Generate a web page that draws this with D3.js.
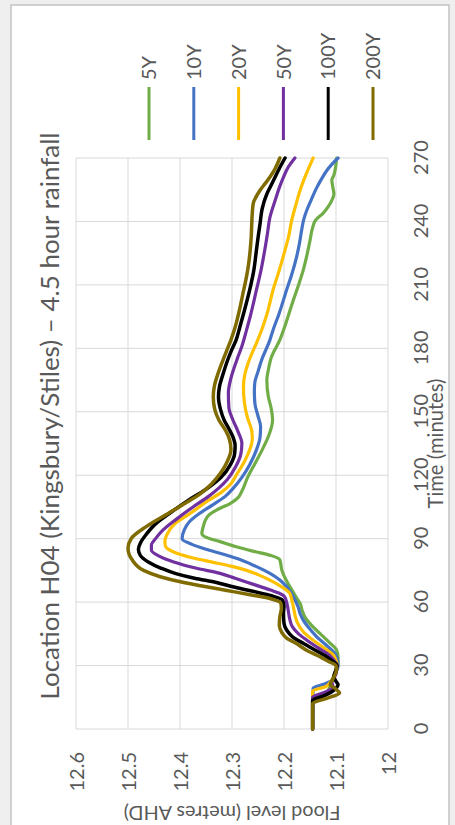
<!DOCTYPE html>
<html>
<head>
<meta charset="utf-8">
<script src="https://cdn.jsdelivr.net/npm/d3@7"></script>
<style>
  html, body { margin: 0; padding: 0; background: #efefef; }
  svg { display: block; }
  text { font-family: Lato, "Open Sans", sans-serif; fill: #595959; }
</style>
</head>
<body>
<svg id="chart" width="455" height="825"></svg>
<script>
// ---- data ----
const seriesNames = ["5Y", "10Y", "20Y", "50Y", "100Y", "200Y"];
const seriesColors = ["#70ad47", "#4472c4", "#ffc000", "#7030a0", "#000000", "#7f6b00"];
const timeTicks = [0, 30, 60, 90, 120, 150, 180, 210, 240, 270];
const levelTicks = [12, 12.1, 12.2, 12.3, 12.4, 12.5, 12.6];
const levelTickLabels = ["12", "12.1", "12.2", "12.3", "12.4", "12.5", "12.6"];

// [time (minutes), flood level (m AHD)]
const data5Y = [[0,12.145],[15,12.145],[17,12.118],[20,12.112],[24,12.106],[28,12.1],[31,12.096],[34,12.096],[37.4,12.099],[41,12.113],[45.2,12.131],[49,12.147],[53,12.16],[56,12.165],[59.4,12.169],[62,12.176],[65,12.183],[70,12.195],[75,12.204],[80,12.208],[82,12.225],[84,12.258],[86.2,12.292],[88.6,12.323],[90.5,12.348],[92.5,12.358],[95,12.356],[98.8,12.351],[101,12.345],[103.5,12.33],[106.7,12.303],[109,12.29],[113,12.28],[119,12.27],[125,12.257],[132,12.242],[139,12.229],[146,12.222],[152,12.225],[157,12.23],[165,12.233],[170,12.23],[176,12.224],[184,12.208],[190,12.199],[196,12.191],[202.8,12.182],[210,12.172],[217,12.163],[224,12.156],[231,12.15],[237,12.145],[240.7,12.139],[243.8,12.125],[247,12.115],[250,12.108],[253,12.104],[256,12.106],[259.6,12.108],[262,12.104],[264,12.102],[267,12.1],[270,12.099]];
const data10Y = [[0,12.145],[19.4,12.144],[21.3,12.122],[23,12.108],[26,12.102],[29.5,12.096],[32.5,12.097],[35.7,12.102],[39.5,12.118],[43.6,12.137],[47.5,12.151],[51.5,12.163],[54.5,12.169],[57.8,12.173],[62,12.181],[67.3,12.195],[70.5,12.208],[73.6,12.227],[77,12.255],[80.6,12.29],[82.5,12.315],[85,12.35],[87.3,12.377],[90,12.396],[94,12.392],[98,12.382],[102,12.362],[106,12.337],[110,12.313],[114,12.297],[119,12.281],[125,12.266],[132,12.253],[138,12.246],[143,12.245],[148,12.25],[154,12.256],[160,12.257],[164,12.256],[169,12.25],[174.5,12.243],[184,12.227],[188.7,12.221],[196,12.21],[207.6,12.195],[215,12.185],[223,12.176],[230,12.17],[236,12.166],[241,12.162],[245.4,12.156],[250,12.148],[256,12.137],[260,12.128],[264,12.118],[267,12.108],[270,12.096]];
const data20Y = [[0,12.145],[18,12.145],[20,12.12],[22.5,12.11],[26,12.102],[30,12.098],[32.5,12.1],[35,12.105],[38.5,12.124],[42,12.144],[46,12.163],[50.7,12.175],[54,12.179],[57.8,12.182],[61,12.185],[64.2,12.189],[67,12.203],[70.4,12.227],[73,12.25],[75,12.272],[77,12.302],[79,12.34],[81,12.377],[83.5,12.41],[86.5,12.428],[89,12.429],[92,12.425],[97,12.41],[102,12.38],[108,12.346],[112,12.32],[116,12.302],[120,12.292],[126,12.277],[132,12.266],[137,12.261],[141,12.262],[147,12.27],[154,12.276],[162,12.278],[168,12.275],[173,12.269],[178,12.261],[182.5,12.253],[188.7,12.243],[196,12.233],[207.6,12.221],[217,12.209],[226.5,12.198],[233,12.191],[240.7,12.185],[248,12.177],[254.8,12.169],[262,12.158],[270,12.144]];
const data50Y = [[0,12.145],[15,12.145],[17.5,12.12],[20,12.106],[22.5,12.108],[26,12.1],[30,12.098],[32.5,12.104],[35,12.113],[38.5,12.135],[42,12.156],[45,12.172],[48.4,12.184],[52,12.189],[56.3,12.192],[60,12.195],[62.6,12.199],[64.3,12.21],[65.7,12.226],[68.5,12.26],[71.3,12.294],[73.6,12.323],[76,12.368],[79,12.412],[82,12.442],[84.5,12.455],[87,12.455],[90,12.447],[94,12.433],[99,12.408],[105,12.375],[110,12.345],[114,12.325],[118,12.309],[124,12.293],[130,12.283],[135,12.281],[141,12.289],[146,12.298],[152,12.306],[159,12.307],[165,12.303],[170,12.297],[175,12.29],[181,12.281],[188.7,12.272],[196,12.264],[207.6,12.253],[216,12.245],[226.5,12.237],[234,12.232],[242,12.227],[250,12.217],[256,12.209],[261,12.201],[266,12.191],[270,12.179]];
const data100Y = [[0,12.145],[13.5,12.145],[15.5,12.125],[17.6,12.108],[19.5,12.099],[21,12.096],[22.5,12.1],[25,12.104],[28,12.1],[30,12.098],[32,12.106],[34.2,12.118],[37,12.138],[40.5,12.163],[43.5,12.183],[46.8,12.195],[50,12.2],[54.7,12.201],[58,12.2],[61,12.203],[63,12.224],[65,12.258],[67,12.294],[69.3,12.33],[71.3,12.372],[73.5,12.408],[76,12.436],[79,12.461],[82,12.476],[85,12.48],[88,12.476],[92,12.465],[97,12.447],[102,12.42],[108,12.385],[113,12.352],[119,12.321],[125,12.303],[130,12.295],[134,12.294],[138,12.298],[142,12.306],[146,12.315],[151,12.322],[157,12.326],[162,12.324],[168,12.317],[174,12.309],[179,12.301],[184,12.292],[190,12.285],[198,12.276],[207.6,12.266],[217,12.258],[226.5,12.253],[234,12.249],[239,12.246],[246,12.242],[253,12.233],[257,12.225],[261,12.217],[266,12.207],[270,12.198]];
const data200Y = [[0,12.145],[12,12.145],[14.5,12.118],[17,12.093],[19,12.101],[21,12.111],[24,12.105],[28,12.099],[30,12.1],[32,12.115],[34.2,12.131],[37,12.155],[40.5,12.177],[43,12.195],[45.5,12.204],[49,12.209],[53,12.208],[57,12.205],[59.5,12.206],[61.5,12.224],[63.5,12.265],[65.5,12.31],[67.5,12.355],[69.5,12.397],[72,12.438],[75,12.47],[80,12.492],[85.5,12.5],[90,12.494],[95.7,12.465],[102,12.422],[106.7,12.39],[111.4,12.36],[116,12.339],[121,12.322],[126,12.31],[132,12.302],[137,12.305],[141,12.312],[146,12.325],[151,12.333],[157,12.336],[162,12.334],[168,12.327],[174,12.318],[179,12.31],[184,12.302],[190,12.294],[200,12.284],[207,12.278],[214,12.272],[220,12.268],[226.5,12.265],[233,12.263],[239,12.262],[244,12.261],[248.7,12.259],[251.5,12.254],[254.8,12.246],[258,12.236],[261,12.227],[265,12.217],[270,12.208]];
const seriesData = [data5Y, data10Y, data20Y, data50Y, data100Y, data200Y];

const titleText = "Location H04 (Kingsbury/Stiles) \u2013 4.5 hour rainfall";
const xTitleText = "Time (minutes)";
const yTitleText = "Flood level (metres AHD)";

// ---- layout (chart drawn in its own frame, then rotated -90deg) ----
const W = 825, H = 455;
const svg = d3.select("#chart");
svg.append("rect").attr("x", 11).attr("y", 5).attr("width", 438).attr("height", 830)
  .attr("fill", "#ffffff").attr("stroke", "#c4c4c4").attr("stroke-width", 1.5);

const g = svg.append("g").attr("transform", `translate(0,${W}) rotate(-90)`);

const x = d3.scaleLinear().domain([0, 270]).range([96, 667]);
const y = d3.scaleLinear().domain([12, 12.6]).range([388, 76]);

// gridlines
g.append("g").selectAll("line.h").data(levelTicks).join("line")
  .attr("x1", x(0)).attr("x2", x(270))
  .attr("y1", d => y(d)).attr("y2", d => y(d))
  .attr("stroke", "#d9d9d9").attr("stroke-width", 1);
g.append("g").selectAll("line.v").data(timeTicks).join("line")
  .attr("x1", d => x(d)).attr("x2", d => x(d))
  .attr("y1", y(12)).attr("y2", y(12.6))
  .attr("stroke", "#d9d9d9").attr("stroke-width", 1);

// axes labels via d3 axes (no domain / tick lines)
const xAxis = d3.axisBottom(x).tickValues(timeTicks).tickSize(0).tickPadding(0);
const xa = g.append("g").attr("transform", `translate(0,${y(12)})`).call(xAxis);
xa.select(".domain").remove();
xa.selectAll("text").attr("y", 40).attr("dy", 0)
  .style("font-size", "20px").style("font-family", "Lato, sans-serif").attr("fill", "#595959");

const yAxis = d3.axisLeft(y).tickValues(levelTicks).tickSize(0).tickPadding(0)
  .tickFormat((d, i) => levelTickLabels[i]);
const ya = g.append("g").attr("transform", `translate(${x(0) - 23},0)`).call(yAxis);
ya.select(".domain").remove();
ya.selectAll("text").attr("x", 0).attr("dy", "0.36em")
  .style("font-size", "20px").style("font-family", "Lato, sans-serif").attr("fill", "#595959");

// lines
const line = d3.line().x(d => x(d[0])).y(d => y(d[1])).curve(d3.curveMonotoneX);
seriesData.forEach((s, i) => {
  g.append("path").datum(s).attr("d", line)
    .attr("fill", "none").attr("stroke", seriesColors[i])
    .attr("stroke-width", i >= 4 ? 3.5 : 3.2).attr("stroke-linejoin", "round").attr("stroke-linecap", "round");
});

// fit text to a target length
function fit(sel, target) {
  const len = sel.node().getComputedTextLength();
  const fs = parseFloat(sel.style("font-size"));
  sel.style("font-size", (fs * target / len).toFixed(2) + "px");
}

// title
const title = g.append("text").attr("x", 409).attr("y", 59).attr("text-anchor", "middle")
  .style("font-size", "24px").text(titleText);
fit(title, 567);

// axis titles
const xt = g.append("text").attr("x", (x(0) + x(270)) / 2).attr("y", 443).attr("text-anchor", "middle")
  .style("font-size", "19px").text(xTitleText);
fit(xt, 130);
const yt = g.append("text").attr("transform", `translate(19,${(y(12) + y(12.6)) / 2}) rotate(-90)`)
  .attr("text-anchor", "middle").style("font-size", "19px").text(yTitleText);
fit(yt, 217);

// legend
const legX1 = 685, legX2 = 738;
const legY0 = 149, legStep = 44.8;
seriesNames.forEach((n, i) => {
  const ly = legY0 + i * legStep;
  g.append("line").attr("x1", legX1).attr("x2", legX2).attr("y1", ly).attr("y2", ly)
    .attr("stroke", seriesColors[i]).attr("stroke-width", 3);
  g.append("text").attr("x", legX2 + 7).attr("y", ly).attr("dy", "0.36em")
    .style("font-size", "20px").text(n);
});
</script>
</body>
</html>
